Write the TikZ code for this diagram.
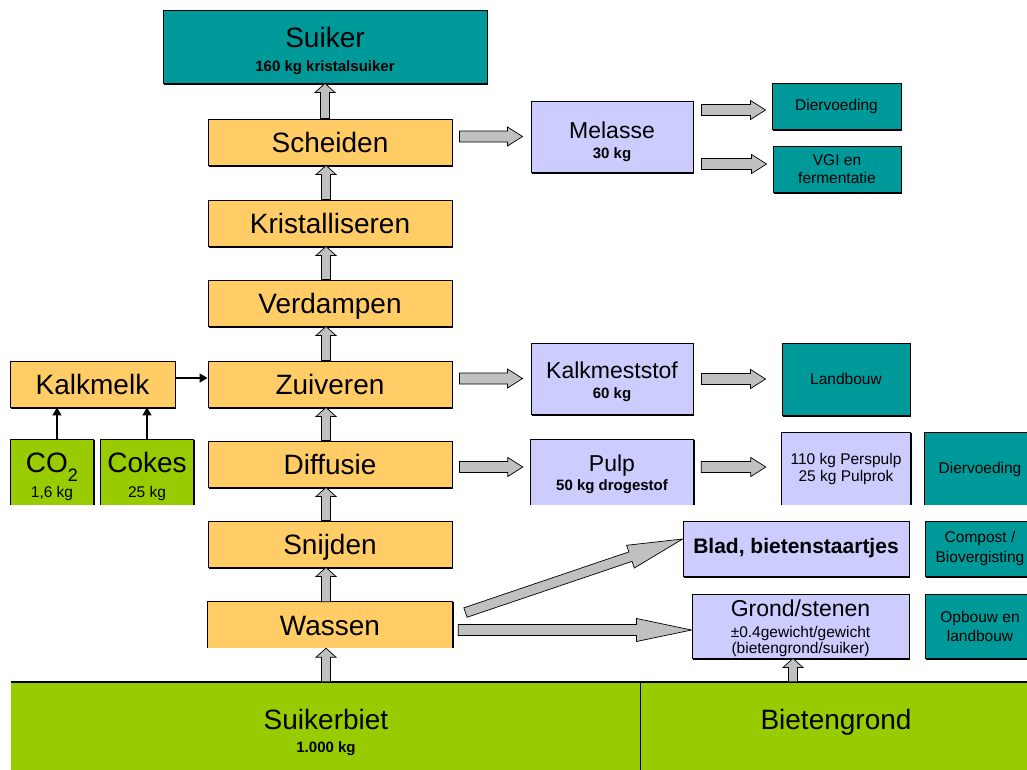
\documentclass[tikz,border=0pt]{standalone}
\usepackage{fontspec}
\setmainfont{Liberation Sans}
\usetikzlibrary{arrows.meta,shadows,calc}
\definecolor{boxteal}{HTML}{009999}
\definecolor{boxorange}{HTML}{FFCC66}
\definecolor{boxlilac}{HTML}{CCCCFF}
\definecolor{boxgreen}{HTML}{99CC00}
\definecolor{arrowgray}{HTML}{C0C0C0}
\newcommand\fsz[2]{\fontsize{#1}{#2}\selectfont}
% block arrow parameters: start gap, end gap, shaft half width, head half width, head length
\def\blkga{0}\def\blkgb{0}\def\blksw{4.5}\def\blkhw{10}\def\blkhl{9}
\begin{document}
\begin{tikzpicture}[x=1pt,y=-1pt,
  box/.style={draw=black, line width=0.9pt, fill=#1, inner sep=0pt,
    drop shadow={shadow xshift=1.2pt,shadow yshift=-1.8pt,fill=black,opacity=1}},
  % box whose bottom edge is left open
  openbox/.style={fill=#1, inner sep=0pt},
  openedge/.style={draw=black, line width=0.9pt},
  proc/.style={box=boxorange, minimum width=244pt, minimum height=46pt,
    font=\fsz{28}{30}, text height=20pt, text depth=0pt},
  big/.style={font=\fsz{28}{30}, anchor=base, inner sep=0pt},
  mid/.style={font=\fsz{23}{25}, anchor=base, inner sep=0pt},
  subb/.style={font=\bfseries\fsz{15}{17}, anchor=base, inner sep=0pt},
  subr/.style={font=\fsz{15.5}{17}, anchor=base, inner sep=0pt},
  small/.style={font=\fsz{15.5}{17.5}, align=center},
  thinarrow/.style={draw=black, line width=1.5pt, -{Triangle[length=8pt,width=9pt]}},
  blkgap/.code 2 args={\def\blkga{#1}\def\blkgb{#2}},
  blkshape/.code n args={3}{\def\blksw{#1}\def\blkhw{#2}\def\blkhl{#3}},
  blk/.style={fill=arrowgray, draw=black, line width=0.7pt, line join=miter,
    to path={let \p1=(\tikztostart), \p2=(\tikztotarget),
      \n1={veclen(\x2-\x1,\y2-\y1)}, \n2={(\x2-\x1)/\n1}, \n3={(\y2-\y1)/\n1},
      \n4={\n1-\blkgb-\blkhl}, \n5={\n1-\blkgb} in
      ({\x1+\blkga*\n2-\blksw*\n3},{\y1+\blkga*\n3+\blksw*\n2})
      -- ({\x1+\n4*\n2-\blksw*\n3},{\y1+\n4*\n3+\blksw*\n2})
      -- ({\x1+\n4*\n2-\blkhw*\n3},{\y1+\n4*\n3+\blkhw*\n2})
      -- ({\x1+\n5*\n2},{\y1+\n5*\n3})
      -- ({\x1+\n4*\n2+\blkhw*\n3},{\y1+\n4*\n3-\blkhw*\n2})
      -- ({\x1+\n4*\n2+\blksw*\n3},{\y1+\n4*\n3-\blksw*\n2})
      -- ({\x1+\blkga*\n2+\blksw*\n3},{\y1+\blkga*\n3-\blksw*\n2})
      -- cycle}},
  vblk/.style={blk, blkgap={0}{0}, blkshape={4.5}{10}{9}},
  hblk/.style={blk, blkshape={5.5}{9.5}{15}},
  lblk/.style={blk, blkshape={5.5}{11.5}{55}},
]
\useasboundingbox (0,0) rectangle (1027,769);
\fill[white] (0,0) rectangle (1027,769);
\clip (0,0) rectangle (1027,769);

% bottom band: raw material
\node[fill=boxgreen, minimum width=629pt, minimum height=93pt, inner sep=0pt] (suikerbiet) at (325.5,728.5) {};
\node[fill=boxgreen, minimum width=395pt, minimum height=93pt, inner sep=0pt] (bietengrond) at (837.5,728.5) {};
\draw[line width=2pt] (suikerbiet.north west) -- (bietengrond.north east);
\draw[line width=0.8pt] (suikerbiet.north east) -- (suikerbiet.south east);
\node[big] (suikerbiet-t) at (326,729) {Suikerbiet};
\node[subb] (suikerbiet-s) at (326,752) {1.000 kg};
\node[big] (bietengrond-t) at (836,729) {Bietengrond};

% product on top
\node[box=boxteal, minimum width=324pt, minimum height=73pt] (suiker) at (325,46.5) {};
\node[big] (suiker-t) at (325,47) {Suiker};
\node[subb] (suiker-s) at (325,71.4) {160 kg kristalsuiker};

% process steps
\node[proc] (scheiden) at (330,142) {Scheiden};
\node[proc] (kristal) at (330,223) {Kristalliseren};
\node[proc] (verdampen) at (330,303) {Verdampen};
\node[proc] (zuiveren) at (330,384) {Zuiveren};
\node[proc] (diffusie) at (330,464) {Diffusie};
\node[proc] (snijden) at (330,544) {Snijden};
\node[openbox=boxorange, minimum width=244pt, minimum height=46pt,
  font=\fsz{28}{30}, text height=20pt, text depth=0pt] (wassen) at (330,625) {Wassen};

% lime milk and its inputs
\node[proc, minimum width=165pt] (kalkmelk) at (92.5,384) {Kalkmelk};
\node[openbox=boxgreen, minimum width=82pt, minimum height=65pt] (co2) at (52,472.5) {};
\node[big] (co2-t) at (52,472) {CO\raisebox{-9pt}{\fsz{18}{18}2}};
\node[subr] (co2-s) at (52,497) {1,6 kg};
\node[openbox=boxgreen, minimum width=92pt, minimum height=65pt] (cokes) at (147,472.5) {};
\node[big] (cokes-t) at (147,472) {Cokes};
\node[subr] (cokes-s) at (147,497) {25 kg};

% by-products
\node[box=boxlilac, minimum width=162pt, minimum height=71pt] (melasse) at (612,136.5) {};
\node[mid] (melasse-t) at (612,138.3) {Melasse};
\node[subb] (melasse-s) at (612,158.7) {30 kg};
\node[box=boxlilac, minimum width=162pt, minimum height=71pt] (kalkmest) at (612,378.5) {};
\node[mid] (kalkmest-t) at (612,378.2) {Kalkmeststof};
\node[subb] (kalkmest-s) at (612,398.7) {60 kg};
\node[openbox=boxlilac, minimum width=162pt, minimum height=65pt] (pulp) at (612,472.5) {};
\node[mid] (pulp-t) at (612,471.5) {Pulp};
\node[subb] (pulp-s) at (612,490.4) {50 kg drogestof};
\node[box=boxlilac, minimum width=226pt, minimum height=55pt,
  font=\bfseries\fsz{21}{23}] (blad) at (796,548.5) {Blad, bietenstaartjes};
\node[box=boxlilac, minimum width=217pt, minimum height=64pt] (grond) at (800.5,626) {};
\node[mid] (grond-t) at (800.5,616) {Grond/stenen};
\node[subr] (grond-s1) at (800.5,637) {±0.4gewicht/gewicht};
\node[subr] (grond-s2) at (800.5,653) {(bietengrond/suiker)};

% destinations
\node[box=boxteal, minimum width=129pt, minimum height=46pt, small] (dier1) at (836.5,106) {Diervoeding};
\node[box=boxteal, minimum width=128pt, minimum height=46pt, small] (vgi) at (837,169) {VGI en\\fermentatie};
\node[box=boxteal, minimum width=128pt, minimum height=72pt, small] (landbouw) at (846,379) {Landbouw};
\node[openbox=boxlilac, minimum width=128pt, minimum height=72pt, small] (perspulp) at (846,469) {110 kg Perspulp\\25 kg Pulprok};
\node[openbox=boxteal, minimum width=110pt, minimum height=72pt, small] (dier2) at (980,469) {Diervoeding};
\node[box=boxteal, minimum width=110pt, minimum height=55pt, small,
  font=\fsz{15.5}{19.5}] (compost) at (980,548.5) {Compost /\\Biovergisting};
\node[box=boxteal, minimum width=110pt, minimum height=64pt, small,
  font=\fsz{15.5}{19}] (opbouw) at (980,626) {Opbouw en\\landbouw};

% outlines of the boxes without a bottom edge
\foreach \b in {wassen,co2,cokes,pulp,perspulp,dier2}{
  \draw[openedge] (\b.south west) -- (\b.north west) -- (\b.north east) -- (\b.south east);
  \draw[openedge, line width=1.6pt] ([xshift=0.8pt]\b.north east) -- ([xshift=0.8pt]\b.south east);
}

% main flow, bottom to top
\draw[vblk] ([xshift=0.5pt]suikerbiet.north) to ([xshift=-4pt]wassen.south);
\draw[vblk] ([xshift=-4pt]wassen.north) to ([xshift=-4pt]snijden.south);
\draw[vblk] ([xshift=-4pt]snijden.north) to ([xshift=-4pt]diffusie.south);
\draw[vblk] ([xshift=-4pt]diffusie.north) to ([xshift=-4pt]zuiveren.south);
\draw[vblk] ([xshift=-4pt]zuiveren.north) to ([xshift=-4pt]verdampen.south);
\draw[vblk] ([xshift=-4pt]verdampen.north) to ([xshift=-4pt]kristal.south);
\draw[vblk] ([xshift=-4pt]kristal.north) to ([xshift=-4pt]scheiden.south);
\draw[vblk] ([xshift=-5pt]scheiden.north) to (suiker.south);
\draw[vblk] ([xshift=-44.5pt]bietengrond.north) to ([xshift=-7.5pt]grond.south);

% side streams
\draw[hblk, blkgap={7}{8}] ([yshift=5.5pt]scheiden.east) to (melasse.west);
\draw[hblk, blkgap={7}{8}] ([yshift=5.5pt]zuiveren.east) to (kalkmest.west);
\draw[hblk, blkgap={7}{8}] ([yshift=-3pt]diffusie.east) to ([yshift=5.5pt]pulp.west);
\draw[hblk, blkgap={8}{6}] ([yshift=26.5pt]melasse.east) to ([yshift=-4pt]dier1.west);
\draw[hblk, blkgap={8}{6}] ([yshift=-27.5pt]melasse.east) to ([yshift=5pt]vgi.west);
\draw[hblk, blkgap={8}{16}] ([yshift=-0.5pt]kalkmest.east) to (landbouw.west);
\draw[hblk, blkgap={8}{16}] ([yshift=5.5pt]pulp.east) to ([yshift=2pt]perspulp.west);
\draw[lblk, blkgap={6}{0}] ([yshift=-5pt]wassen.east) to ([yshift=-4pt]grond.west);
\draw[lblk, blkgap={14}{0}, blkshape={5}{12}{55}] ([yshift=8pt]wassen.east) to ([yshift=9.5pt]blad.west);

% lime milk supply
\draw[thinarrow] ([yshift=6pt]kalkmelk.east) -- ([yshift=6pt]zuiveren.west);
\draw[thinarrow] ([xshift=5pt]co2.north) -- ([xshift=-35.5pt]kalkmelk.south);
\draw[thinarrow] (cokes.north) -- ([xshift=54.5pt]kalkmelk.south);
\end{tikzpicture}
\end{document}
